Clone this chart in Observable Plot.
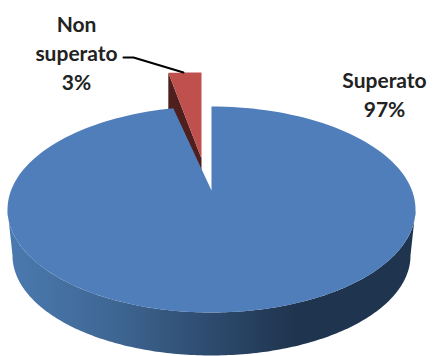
<!DOCTYPE html>
<html>
<head>
<meta charset="utf-8">
<script src="https://cdn.jsdelivr.net/npm/d3@7"></script>
<script src="https://cdn.jsdelivr.net/npm/@observablehq/plot@0.6"></script>
<style>html,body{margin:0;padding:0;background:#fff}svg{display:block}</style>
</head>
<body>
<div id="chart"></div>
<script>
const categories = ["Superato", "Non superato"];
const values = [97, 3];
const labelLines = ["Superato\n97%", "Non\nsuperato\n3%"];
const labelX = [384, 76];
const labelY = [93, 51];
const leaderX = [123, 133, 183];
const leaderY = [57, 57, 72];

// 3D view of the pie
const upper = {cx: 211, cy: 209, rx: 204, ry: 103, apexY: 190};
const base = {cx: 211, cy: 255, rx: 199, ry: 100};
const exploded = {apexX: 201, apexY: 158, rx: 177, rimY: 72, ry: 18, wall: 12, wallRim: 36};

const arcs = d3.pie().sort(null)(values);
const steps = d3.range(0, 1.0001, 1 / 180);
const rim = (e, a) => ({x: e.cx + e.rx * Math.sin(a), y: e.cy - e.ry * Math.cos(a)});
const sweep = (a0, a1) => steps.map(t => a0 + (a1 - a0) * t);

const blue = arcs[0], red = arcs[1];
const blueTop = [{x: upper.cx, y: upper.apexY}, ...sweep(blue.startAngle, blue.endAngle).map(a => rim(upper, a)), {x: upper.cx, y: upper.apexY}];
const wallFront = [...sweep(Math.PI / 2, 3 * Math.PI / 2).map(a => rim(upper, a)), ...sweep(3 * Math.PI / 2, Math.PI / 2).map(a => rim(base, a))];

const redRim = a => ({
  x: exploded.apexX + exploded.rx * Math.sin(a),
  y: exploded.rimY + exploded.ry * (1 - Math.cos(a))
});
const redApex = {x: exploded.apexX, y: exploded.apexY};
const redTop = [redApex, ...sweep(red.startAngle, red.endAngle).map(redRim)];
const redLeft = redRim(red.startAngle);
const redSide = [
  redLeft, redApex,
  {x: redApex.x, y: redApex.y + exploded.wall},
  {x: redLeft.x, y: redLeft.y + exploded.wallRim}
];

const labels = categories.map((c, i) => ({c, text: labelLines[i], x: labelX[i], y: labelY[i]}));
const leader = leaderX.map((x, i) => ({x, y: leaderY[i]}));

const gradient = () => {
  const defs = d3.create("svg:defs");
  const g = defs.append("linearGradient").attr("id", "wallShade")
    .attr("gradientUnits", "userSpaceOnUse")
    .attr("x1", 12).attr("x2", 295).attr("y1", 0).attr("y2", 0);
  [[0, "#4a79ae"], [0.35, "#3f6794"], [0.68, "#2e4c70"], [1, "#1f344e"]]
    .forEach(([o, c]) => g.append("stop").attr("offset", o).attr("stop-color", c));
  return defs.node();
};

const poly = (d, fill) => Plot.line(d, {x: "x", y: "y", fill, stroke: "none", curve: "linear"});

const plot = Plot.plot({
  width: 434,
  height: 356,
  margin: 0,
  x: {domain: [0, 434], range: [0, 434], axis: null},
  y: {domain: [0, 356], range: [0, 356], axis: null},
  marks: [
    gradient,
    poly(wallFront, "url(#wallShade)"),
    poly(redSide, "#4f1f1d"),
    poly(redTop, "#c0504d"),
    poly(blueTop, "#4f7ebb"),
    Plot.line(leader, {x: "x", y: "y", stroke: "#000", strokeWidth: 2, curve: "linear"}),
    Plot.text(labels, {
      x: "x", y: "y", text: "text",
      fontFamily: "Lato", fontWeight: 700, fontSize: 21,
      lineHeight: 1.38, fill: "#222", textAnchor: "middle"
    })
  ]
});
document.getElementById("chart").append(plot);
</script>
</body>
</html>
